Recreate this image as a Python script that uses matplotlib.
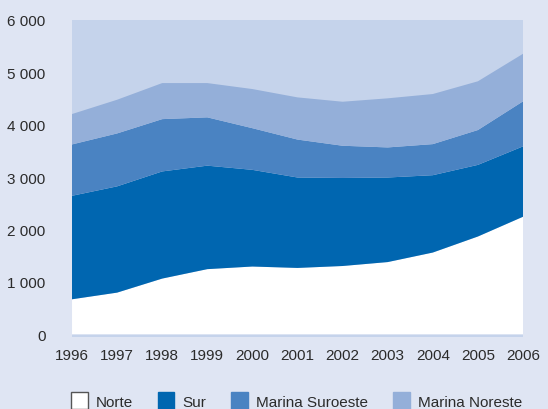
import matplotlib.pyplot as plt
from matplotlib.patches import Patch
from matplotlib.ticker import FuncFormatter

# ---------------------------------------------------------------------------
# Data
# ---------------------------------------------------------------------------
years = [1996, 1997, 1998, 1999, 2000, 2001, 2002, 2003, 2004, 2005, 2006]

# cumulative tops, converted to per-series values below
norte_top    = [670, 797, 1065, 1245, 1295, 1268, 1305, 1380, 1562, 1868, 2245]
sur_top      = [2645, 2825, 3110, 3220, 3140, 2994, 2985, 2994, 3038, 3235, 3588]
suroeste_top = [3625, 3835, 4108, 4142, 3935, 3718, 3600, 3568, 3631, 3900, 4447]
noreste_top  = [4205, 4478, 4796, 4796, 4682, 4523, 4440, 4505, 4587, 4830, 5355]

norte    = norte_top
sur      = [b - a for a, b in zip(norte_top, sur_top)]
suroeste = [b - a for a, b in zip(sur_top, suroeste_top)]
noreste  = [b - a for a, b in zip(suroeste_top, noreste_top)]

labels = ["Norte", "Sur", "Marina Suroeste", "Marina Noreste"]

# ---------------------------------------------------------------------------
# Palette
# ---------------------------------------------------------------------------
COLOR_FIG_BG  = "#dfe5f3"
COLOR_PLOT_BG = "#c5d3eb"
COLORS        = ["#ffffff", "#0066b0", "#4a83c2", "#94afd9"]
COLOR_TEXT    = "#2b2b2b"

plt.rcParams["font.family"] = ["Liberation Sans", "DejaVu Sans"]

fig = plt.figure(figsize=(5.48, 4.10), dpi=100, facecolor=COLOR_FIG_BG)
ax = fig.add_axes([0.1314, 0.1756, 0.823, 0.7732])
ax.set_facecolor(COLOR_PLOT_BG)

ax.stackplot(years, norte, sur, suroeste, noreste, colors=COLORS,
             linewidth=0, labels=labels)

ax.set_xlim(1996, 2006)
ax.set_ylim(-50, 6000)
ax.set_xticks(years)
ax.set_yticks(range(0, 6001, 1000))
ax.yaxis.set_major_formatter(FuncFormatter(lambda v, _: f"{int(v):,}".replace(",", " ")))
ax.tick_params(axis="both", length=0, labelsize=11, colors=COLOR_TEXT)
ax.tick_params(axis="y", pad=19)
ax.tick_params(axis="x", pad=8)
for spine in ax.spines.values():
    spine.set_visible(False)

handles = [Patch(facecolor=c, edgecolor="#555555" if c == "#ffffff" else c,
                 linewidth=1.0) for c in COLORS]
fig.legend(handles, labels, loc="center", bbox_to_anchor=(0.541, 0.02),
           ncol=4, frameon=False, fontsize=11, handlelength=1.1,
           handleheight=1.3, handletextpad=0.55, columnspacing=1.6,
           labelcolor=COLOR_TEXT)

fig.savefig("out.png", dpi=100, facecolor=COLOR_FIG_BG)
